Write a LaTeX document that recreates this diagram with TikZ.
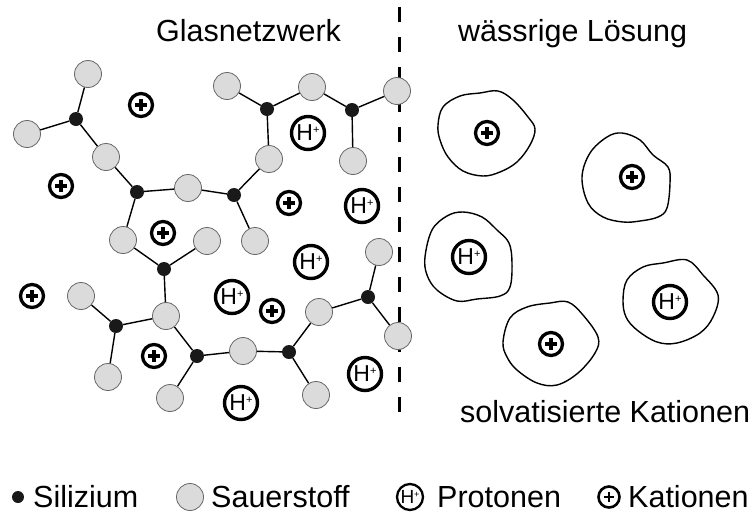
\documentclass[tikz,border=0pt]{standalone}
\usepackage{fontspec}
\setmainfont{Liberation Sans}
\newcommand{\hion}[3]{H\raisebox{#1}{\fontsize{#2}{#2}\selectfont #3}}
\begin{document}
\begin{tikzpicture}[x=1pt,y=-1pt,
  caption/.style={anchor=base west,inner sep=0pt,font=\fontsize{30.5}{36}\selectfont},
  si/.style={circle,fill=black!90,inner sep=0pt,minimum size=14pt},
  ox/.style={circle,fill=black!14,draw=black!60,line width=0.8pt,inner sep=0pt,minimum size=27pt},
  bond/.style={line width=1.4pt},
  plussign/.style 2 args={path picture={
      \draw[line width=#1]
        ([xshift=-#2]path picture bounding box.center) -- ([xshift=#2]path picture bounding box.center)
        ([yshift=-#2]path picture bounding box.center) -- ([yshift=#2]path picture bounding box.center);}},
  kat/.style={circle,draw,line width=3.3pt,inner sep=0pt,minimum size=23pt,plussign={3.2pt}{5.8pt}},
  katsmall/.style={circle,draw,line width=2.6pt,inner sep=0pt,minimum size=21pt,plussign={2.8pt}{5.2pt}},
  proton/.style={circle,draw,line width=3.4pt,inner sep=0pt,minimum size=33pt,
      font=\fontsize{23}{23}\selectfont},
  protonsmall/.style={circle,draw,line width=2.3pt,inner sep=0pt,minimum size=26pt,
      font=\fontsize{19}{19}\selectfont},
  blob/.style={line width=1.4pt},
  divider/.style={line width=3pt,dash pattern=on 15pt off 15pt}
]
\useasboundingbox (0,0) rectangle (752,517);

% dividing line between glass and solution
\coordinate (dtop) at (399,7);
\coordinate (dbot) at (399,412);
\draw[divider] (dtop) -- (dbot);

% oxygen atoms
\node[ox] (o1) at (88,74) {};
\node[ox] (o2) at (27,134) {};
\node[ox] (o3) at (106,157) {};
\node[ox] (o4) at (188,188) {};
\node[ox] (o5) at (123,240) {};
\node[ox] (o6) at (227,86) {};
\node[ox] (o7) at (269,159) {};
\node[ox] (o8) at (312,87) {};
\node[ox] (o9) at (397,91) {};
\node[ox] (o10) at (353,161) {};
\node[ox] (o11) at (207,241) {};
\node[ox] (o12) at (255,241) {};
\node[ox] (o13) at (81,296) {};
\node[ox] (o14) at (166,316) {};
\node[ox] (o15) at (108,377) {};
\node[ox] (o16) at (243,351) {};
\node[ox] (o17) at (170,398) {};
\node[ox] (o18) at (319,312) {};
\node[ox] (o19) at (379,252) {};
\node[ox] (o20) at (398,336) {};
\node[ox] (o21) at (316,395) {};

% silicon atoms
\node[si] (s1) at (76,119) {};
\node[si] (s2) at (137,192) {};
\node[si] (s3) at (234,195) {};
\node[si] (s4) at (267,109) {};
\node[si] (s5) at (352,110) {};
\node[si] (s6) at (164,269) {};
\node[si] (s7) at (116,326) {};
\node[si] (s8) at (197,356) {};
\node[si] (s9) at (289,352) {};
\node[si] (s10) at (368,297) {};

% Si-O bonds
\draw[bond] (s1) -- (o1) (s1) -- (o2) (s1) -- (o3);
\draw[bond] (s2) -- (o3) (s2) -- (o4) (s2) -- (o5);
\draw[bond] (s3) -- (o4) (s3) -- (o7) (s3) -- (o12);
\draw[bond] (s4) -- (o6) (s4) -- (o8) (s4) -- (o7);
\draw[bond] (s5) -- (o8) (s5) -- (o9) (s5) -- (o10);
\draw[bond] (s6) -- (o5) (s6) -- (o11) (s6) -- (o14);
\draw[bond] (s7) -- (o13) (s7) -- (o14) (s7) -- (o15);
\draw[bond] (s8) -- (o14) (s8) -- (o16) (s8) -- (o17);
\draw[bond] (s9) -- (o16) (s9) -- (o18) (s9) -- (o21);
\draw[bond] (s10) -- (o18) (s10) -- (o19) (s10) -- (o20);

% cations in the glass
\node[kat] (k1) at (141,105) {};
\node[kat] (k2) at (61,186) {};
\node[kat] (k3) at (163,233) {};
\node[kat] (k4) at (289,203) {};
\node[kat] (k5) at (32,296) {};
\node[kat] (k6) at (154,356) {};
\node[kat] (k7) at (272,311) {};

% protons in the glass
\node[proton] (h1) at (308,133) {\hion{7pt}{11}{+}};
\node[proton] (h2) at (362,206) {\hion{7pt}{11}{+}};
\node[proton] (h3) at (311,262) {\hion{7pt}{11}{+}};
\node[proton] (h4) at (232,297) {\hion{7pt}{11}{+}};
\node[proton] (h5) at (241,403) {\hion{7pt}{11}{+}};
\node[proton] (h6) at (365,374) {\hion{7pt}{11}{+}};

% solvated ions with their hydration shells
\node[kat] (ks1) at (487,133) {};
\node[kat] (ks2) at (632,177) {};
\node[kat] (ks3) at (551,344) {};
\node[proton] (hs1) at (469,257) {\hion{7pt}{11}{+}};
\node[proton] (hs2) at (670,302) {\hion{7pt}{11}{+}};

\draw[blob] plot[smooth cycle,tension=0.6] coordinates {
  (438,125) (443,107) (460,96) (480,93) (498,91) (513,100) (528,117) (535,129)
  (530,145) (517,162) (500,172) (483,176) (463,171) (448,157) (440,140)};
\draw[blob] plot[smooth cycle,tension=0.6] coordinates {
  (582,177) (590,153) (607,137) (622,133) (640,140) (653,155) (668,167) (670,183)
  (667,208) (658,217) (640,221) (623,222) (603,217) (588,203)};
\draw[blob] plot[smooth cycle,tension=0.6] coordinates {
  (425,257) (432,230) (447,216) (463,212) (482,217) (497,230) (509,243) (512,263)
  (510,287) (500,296) (477,299) (457,301) (437,290) (427,275)};
\draw[blob] plot[smooth cycle,tension=0.6] coordinates {
  (623,300) (627,280) (643,267) (663,263) (687,260) (703,275) (718,295) (713,317)
  (700,333) (677,343) (657,342) (637,330) (626,317)};
\draw[blob] plot[smooth cycle,tension=0.6] coordinates {
  (503,342) (510,318) (527,307) (550,303) (568,302) (583,315) (598,337) (595,353)
  (578,373) (557,385) (537,383) (517,370) (507,357)};

% headings
\node[caption] (t1) at (156,41) {Glasnetzwerk};
\node[caption] (t2) at (458,41) {wässrige Lösung};
\node[caption] (t3) at (460,422) {solvatisierte Kationen};

% legend
\node[si,minimum size=12pt] (ls) at (18,497) {};
\node[caption] (lst) at (33,507) {Silizium};
\node[ox] (lo) at (190,497) {};
\node[caption] (lot) at (211,507) {Sauerstoff};
\node[protonsmall] (lh) at (410,497) {\hion{6pt}{9}{+}};
\node[caption] (lht) at (437,507) {Protonen};
\node[katsmall] (lk) at (609,497) {};
\node[caption] (lkt) at (628,507) {Kationen};
\end{tikzpicture}
\end{document}
